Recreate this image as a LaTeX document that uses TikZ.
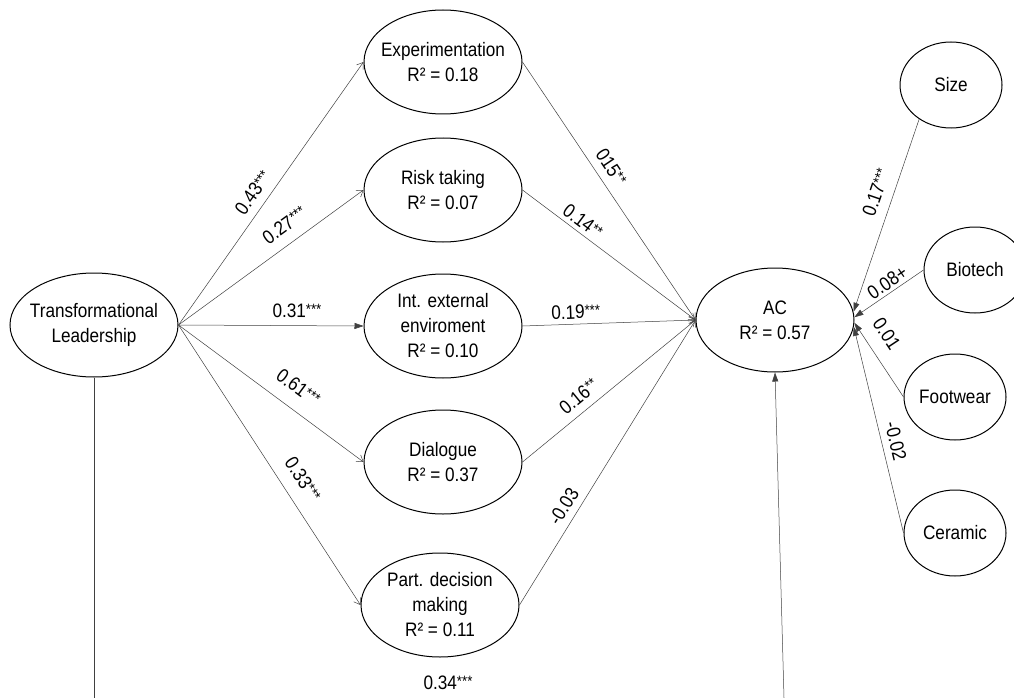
\documentclass[tikz,border=0pt]{standalone}
\usepackage{fontspec}
\setmainfont{Liberation Sans}[FakeStretch=0.88]
\usepackage{tikz}
\usetikzlibrary{shapes.geometric}
\usetikzlibrary{arrows.meta}
\newcommand{\stars}[1]{\raisebox{3pt}{\fontsize{15}{15}\selectfont#1}}

\begin{document}
\begin{tikzpicture}
				[x=1pt,y=-1pt,every node/.style={inner sep=0pt,align=center,font=\fontsize{19.5}{25}\selectfont},
				latent/.style={ellipse,draw=black,line width=1pt,minimum width=158pt,minimum height=104pt,inner sep=-8pt},
				dummy/.style={ellipse,draw=black,line width=1pt,minimum width=102pt,minimum height=86pt,inner sep=-8pt},
				barb/.style={line width=0.5pt,draw=black!75,-{Straight Barb[length=6pt,width=8pt]}},
				solid/.style={line width=0.5pt,draw=black!75,-{Triangle[length=9pt,width=6pt]}}]
				\useasboundingbox (0,0) rectangle (1014,698);
				\node (1) [latent, minimum width=168pt] at (94, 325) {Transformational\\Leadership};
				\node (2) [latent] at (443, 62) {Experimentation\\R² = 0.18};
				\node (3) [latent] at (443, 190) {Risk taking\\R² = 0.07};
				\node (4) [latent] at (443, 326) {Int. external\\enviroment\\R² = 0.10};
				\node (5) [latent] at (443, 462) {Dialogue\\R² = 0.37};
				\node (6) [latent] at (440, 605) {Part. decision\\making\\R² = 0.11};
				\node (7) [latent] at (775, 320) {AC\\R² = 0.57};
				\node (8) [dummy] at (951, 85) {Size};
				\node (9) [dummy] at (975, 270) {Biotech};
				\node (10) [dummy] at (955, 397) {Footwear};
				\node (11) [dummy] at (955, 533) {Ceramic};
				\coordinate (1b) at (94, 698);
				\coordinate (7b) at (784, 698);
				% leadership -> mediators
				\draw [barb] (1.east) -- node [sloped, above=8pt, pos=0.47] {0.43\stars{***}} (2.west);
				\draw [barb] (1.east) -- node [sloped, above=11pt, pos=0.63] {0.27\stars{***}} (3.west);
				\draw [solid] (1.east) -- node [sloped, above=8pt, pos=0.64] {0.31\stars{***}} (4.west);
				\draw [barb] (1.east) -- node [sloped, above=14pt, pos=0.58] {0.61\stars{***}} (5.west);
				\draw [barb] (1.east) -- node [sloped, above=13pt, pos=0.59] {0.33\stars{***}} (6.west);
				% mediators -> AC
				\draw [barb] (2.east) -- node [sloped, above=8pt, pos=0.44] {015\stars{**}} (7.west);
				\draw [barb] (3.east) -- node [sloped, above=4pt, pos=0.31] {0.14\stars{**}} (7.west);
				\draw [barb] (4.east) -- node [sloped, above=5pt, pos=0.31] {0.19\stars{***}} (7.west);
				\draw [barb] (5.east) -- node [sloped, above=8pt, pos=0.38] {0.16\stars{**}} (7.west);
				\draw [barb] (6.east) -- node [sloped, above=7pt, pos=0.32] {-0.03} (7.west);
				% controls -> AC
				\draw [solid] (8.227) -- node [sloped, above=10pt, pos=0.41] {0.17\stars{***}} (7.6);
				\draw [solid] (9.west) -- node [sloped, above=3pt, pos=0.44] {0.08+} (7.2);
				\draw [solid] (10.west) -- node [sloped, above=14pt, pos=0.70] {0.01} (7.-2);
				\draw [solid] (11.west) -- node [sloped, above=7pt, pos=0.43] {-0.02} (7.-5);
				% direct effect
				\draw [line width=0.5pt, draw=black!75] (1.south) -- (1b);
				\draw [solid] (7b) -- (7.south);
				\node (12) at (448, 683) {0.34\stars{***}};
		\end{tikzpicture}
\end{document}
